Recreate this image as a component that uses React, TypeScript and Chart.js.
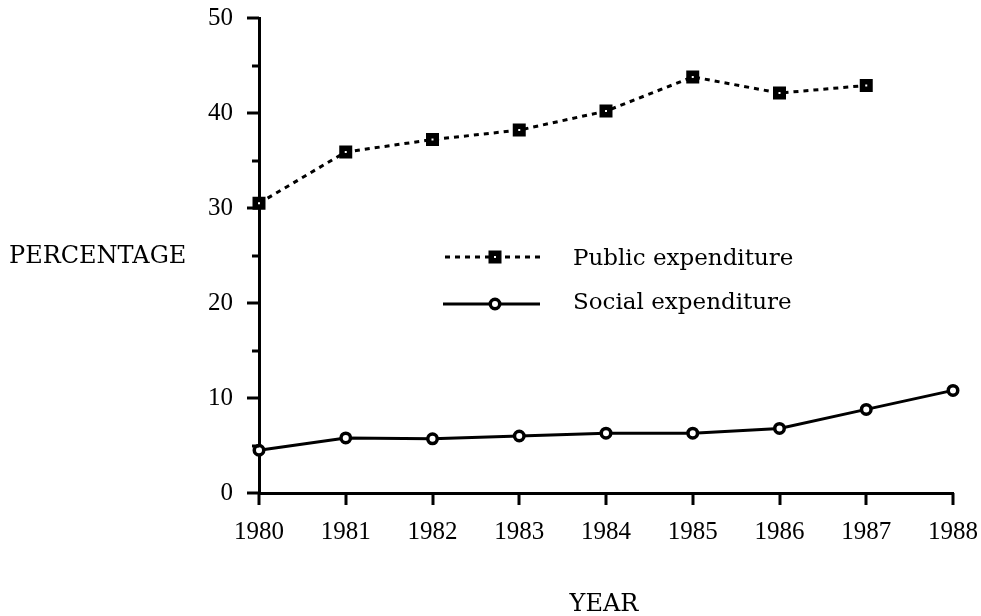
import React, { useEffect, useRef } from "react";
import { Chart, registerables } from "chart.js";

Chart.register(...registerables);

const years = ["1980", "1981", "1982", "1983", "1984", "1985", "1986", "1987", "1988"];
const publicExpenditure = [30.5, 35.9, 37.2, 38.2, 40.2, 43.8, 42.1, 42.9, null];
const socialExpenditure = [4.5, 5.8, 5.7, 6.0, 6.3, 6.3, 6.8, 8.8, 10.8];
const yTickLabels = [0, 10, 20, 30, 40, 50];
const seriesNames = ["Public expenditure", "Social expenditure"];
const yAxisTitle = "PERCENTAGE";
const xAxisTitle = "YEAR";

const NUM_FONT = "'Liberation Serif', 'Times New Roman', serif";
const TEXT_FONT = "'DejaVu Serif', serif";

function drawRectMarker(ctx: CanvasRenderingContext2D, x: number, y: number) {
  const half = 3.75;
  ctx.save();
  ctx.setLineDash([]);
  ctx.fillStyle = "#fff";
  ctx.strokeStyle = "#000";
  ctx.lineWidth = 5.5;
  ctx.beginPath();
  ctx.rect(x - half, y - half, half * 2, half * 2);
  ctx.fill();
  ctx.stroke();
  ctx.restore();
}

function drawCircleMarker(ctx: CanvasRenderingContext2D, x: number, y: number) {
  ctx.save();
  ctx.setLineDash([]);
  ctx.fillStyle = "#fff";
  ctx.strokeStyle = "#000";
  ctx.lineWidth = 3.5;
  ctx.beginPath();
  ctx.arc(x, y, 4.75, 0, Math.PI * 2);
  ctx.fill();
  ctx.stroke();
  ctx.restore();
}

const decorPlugin = {
  id: "decor",
  afterDraw(chart: any) {
    const ctx: CanvasRenderingContext2D = chart.ctx;
    const area = chart.chartArea;
    const xs = chart.scales.x;
    const ys = chart.scales.y;
    ctx.save();
    ctx.strokeStyle = "#000";
    ctx.lineWidth = 3;
    ctx.setLineDash([]);
    // y ticks (major every 10, minor every 5)
    ys.ticks.forEach((t: any, i: number) => {
      const py = Math.round(ys.getPixelForTick(i));
      const major = yTickLabels.includes(t.value);
      const len = major ? 12 : 7;
      ctx.beginPath();
      ctx.moveTo(area.left, py);
      ctx.lineTo(area.left - len, py);
      ctx.stroke();
    });
    // x ticks downward
    years.forEach((_, i) => {
      const px = Math.round(xs.getPixelForTick(i));
      ctx.beginPath();
      ctx.moveTo(px, area.bottom);
      ctx.lineTo(px, area.bottom + 12);
      ctx.stroke();
    });

    // axis titles
    ctx.fillStyle = "#000";
    ctx.font = `24px ${TEXT_FONT}`;
    ctx.textBaseline = "middle";
    ctx.textAlign = "left";
    ctx.fillText(yAxisTitle, 9, 257);
    ctx.textAlign = "center";
    ctx.fillText(xAxisTitle, 604, 605);

    // legend
    const lx0 = 445;
    const lx1 = 540;
    const lmid = 495;
    const rows = [257, 304];
    ctx.lineWidth = 3;
    ctx.setLineDash([5, 5]);
    ctx.beginPath();
    ctx.moveTo(lx0, rows[0]);
    ctx.lineTo(lx1, rows[0]);
    ctx.stroke();
    drawRectMarker(ctx, lmid, rows[0]);
    ctx.setLineDash([]);
    ctx.beginPath();
    ctx.moveTo(lx0 - 2, rows[1]);
    ctx.lineTo(lx1, rows[1]);
    ctx.stroke();
    drawCircleMarker(ctx, lmid, rows[1]);
    ctx.font = `23px ${TEXT_FONT}`;
    ctx.textAlign = "left";
    ctx.fillText(seriesNames[0], 573, rows[0] + 2);
    ctx.fillText(seriesNames[1], 573, rows[1] - 1);
    ctx.restore();
  },
};

export default function App() {
  const canvasRef = useRef<HTMLCanvasElement | null>(null);

  useEffect(() => {
    if (!canvasRef.current) return;
    const chart = new Chart(canvasRef.current, {
      type: "line",
      data: {
        labels: years,
        datasets: [
          {
            label: seriesNames[0],
            data: publicExpenditure,
            borderColor: "#000",
            backgroundColor: "#fff",
            borderWidth: 3,
            borderDash: [5, 5],
            pointStyle: "rect",
            pointRadius: 5.3,
            pointBorderWidth: 5.5,
            pointBorderColor: "#000",
            pointBackgroundColor: "#fff",
            tension: 0,
            fill: false,
          },
          {
            label: seriesNames[1],
            data: socialExpenditure,
            borderColor: "#000",
            backgroundColor: "#fff",
            borderWidth: 3,
            pointStyle: "circle",
            pointRadius: 4.75,
            pointBorderWidth: 3.5,
            pointBorderColor: "#000",
            pointBackgroundColor: "#fff",
            tension: 0,
            fill: false,
          },
        ],
      },
      options: {
        responsive: false,
        animation: false,
        devicePixelRatio: 1,
        layout: { padding: { top: 18, right: 28, left: 0, bottom: 0 } },
        plugins: {
          legend: { display: false },
          tooltip: { enabled: false },
        },
        scales: {
          x: {
            type: "category",
            offset: false,
            grid: { display: false, drawTicks: false },
            border: { display: true, color: "#000", width: 3 },
            ticks: {
              color: "#000",
              font: { family: NUM_FONT, size: 25 },
              padding: 24,
              maxRotation: 0,
              autoSkip: false,
            },
            afterFit: (scale: any) => {
              scale.height = 123;
              scale.paddingLeft = 0;
              scale.paddingRight = 0;
              scale.paddingTop = 0;
              scale.paddingBottom = 0;
            },
          },
          y: {
            type: "linear",
            min: 0,
            max: 50,
            grid: { display: false, drawTicks: false },
            border: { display: true, color: "#000", width: 3 },
            ticks: {
              stepSize: 5,
              color: "#000",
              font: { family: NUM_FONT, size: 25 },
              padding: 26,
              callback: (v: any) => (yTickLabels.includes(Number(v)) ? String(v) : ""),
            },
            afterFit: (scale: any) => {
              scale.width = 259;
              scale.paddingLeft = 0;
              scale.paddingRight = 0;
              scale.paddingTop = 0;
              scale.paddingBottom = 0;
            },
          },
        },
      },
      plugins: [decorPlugin],
    });
    return () => chart.destroy();
  }, []);

  return (
    <div style={{ position: "absolute", left: 0, top: 0, width: 981, height: 616, background: "#fff" }}>
      <canvas ref={canvasRef} width={981} height={616} style={{ width: 981, height: 616, display: "block" }} />
    </div>
  );
}
